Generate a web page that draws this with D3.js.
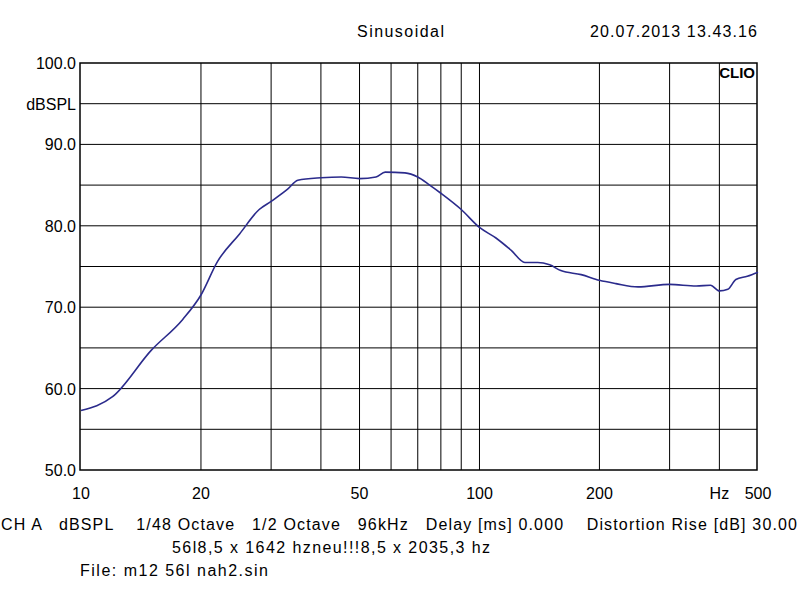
<!DOCTYPE html>
<html><head><meta charset="utf-8">
<script src="https://cdn.jsdelivr.net/npm/d3@7"></script>
<style>body{margin:0;background:#fff}text{font-family:"Liberation Sans",Arial,sans-serif;fill:#000}</style>
</head><body><svg id="c" width="800" height="600"></svg>
<script>
const freqs=[10,12,15,18,20,22,25,28,30,33,35,40,45,50,55,58,65,70,75,80,90,100,110,120,130,140,150,160,180,200,220,250,300,350,380,400,420,440,470,500];
const spl=[57.3,59.0,64.7,68.5,71.5,75.6,79.0,82.0,83.0,84.5,85.6,85.9,86.0,85.8,86.0,86.6,86.5,86.0,85.0,84.0,82.0,79.8,78.5,77.0,75.5,75.5,75.2,74.5,74.0,73.3,72.9,72.5,72.8,72.6,72.7,72.0,72.2,73.4,73.8,74.3];
const xGrid=[20,30,40,50,60,70,80,90,100,200,300,400];
const xLabels=[["10",10],["20",20],["50",50],["100",100],["200",200],["Hz",400],["500",500]];
const yLabels=[100,90,80,70,60,50];
const yGrid=[55,60,65,70,75,80,85,90,95];
const svg=d3.select("#c");
const x=d3.scaleLog().domain([10,500]).range([80,757]);
const y=d3.scaleLinear().domain([50,100]).range([470,63]);
const g=svg.append("g");
g.selectAll(".v").data(xGrid).join("line").attr("x1",d=>x(d)+1).attr("x2",d=>x(d)+1).attr("y1",63).attr("y2",470).attr("stroke","#000").attr("stroke-width",1);
g.selectAll(".h").data(yGrid).join("line").attr("x1",80).attr("x2",757).attr("y1",d=>y(d)).attr("y2",d=>y(d)).attr("stroke","#000").attr("stroke-width",1);
g.append("rect").attr("x",80).attr("y",63).attr("width",677).attr("height",407).attr("fill","none").attr("stroke","#000").attr("stroke-width",1.5);
g.append("path").datum(freqs.map((f,i)=>[f,spl[i]])).attr("d",d3.line().x(d=>x(d[0])+1).y(d=>y(d[1])).curve(d3.curveMonotoneX)).attr("fill","none").attr("stroke","#2b2b8c").attr("stroke-width",1.6);
svg.selectAll(".yl").data(yLabels).join("text").attr("x",76).attr("y",d=>y(d)+6).attr("text-anchor","end").attr("font-size",16).text(d=>d.toFixed(1));
svg.append("text").attr("x",76).attr("y",y(95)+6).attr("text-anchor","end").attr("font-size",16).text("dBSPL");
svg.selectAll(".xl").data(xLabels).join("text").attr("x",d=>x(d[1])+1).attr("y",499).attr("text-anchor","middle").attr("font-size",16).text(d=>d[0]);
svg.append("text").attr("x",357).attr("y",37).attr("font-size",16).attr("textLength",87).text("Sinusoidal");
svg.append("text").attr("x",590).attr("y",37).attr("font-size",16).attr("textLength",167).text("20.07.2013 13.43.16");
svg.append("text").attr("x",755).attr("y",78).attr("text-anchor","end").attr("font-size",15).attr("font-weight","bold").attr("font-family","Liberation Serif,serif").text("CLIO");
svg.append("text").attr("x",1).attr("y",530).attr("font-size",16).attr("xml:space","preserve").attr("textLength",796).text("CH A   dBSPL    1/48 Octave   1/2 Octave   96kHz   Delay [ms] 0.000    Distortion Rise [dB] 30.00");
svg.append("text").attr("x",172).attr("y",553).attr("font-size",16).attr("textLength",318).text("56l8,5 x 1642 hzneu!!!8,5 x 2035,3 hz");
svg.append("text").attr("x",80).attr("y",576).attr("font-size",16).attr("textLength",188).text("File: m12 56l nah2.sin");
</script></body></html>
